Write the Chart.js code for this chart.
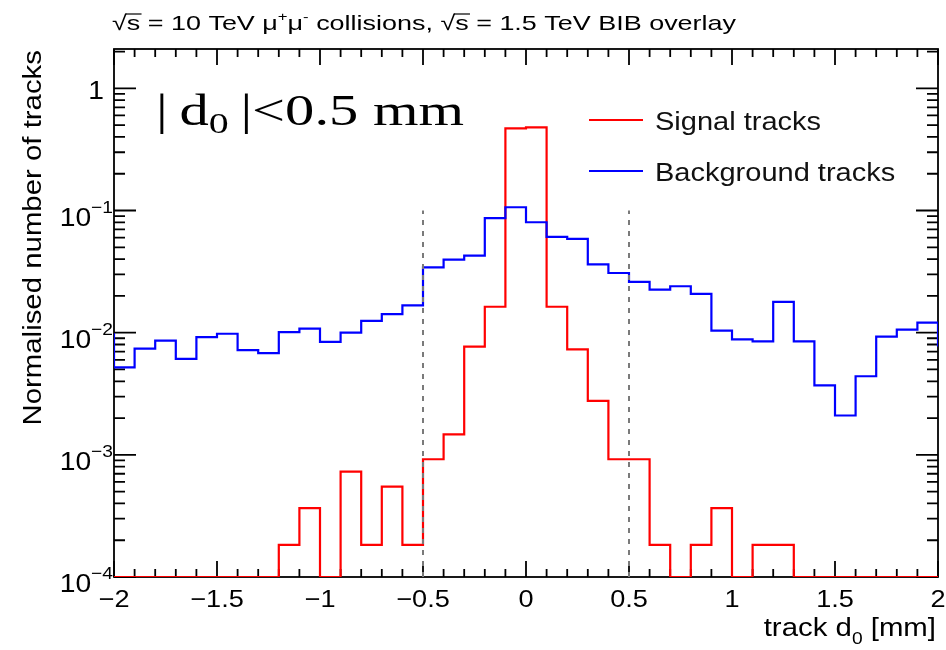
<!DOCTYPE html>
<html lang="en">
<head>
<meta charset="UTF-8">
<title>Track d0 - signal and BIB background</title>
<script src="https://cdn.jsdelivr.net/npm/chart.js"></script>
<style>
    html, body { margin: 0; padding: 0; background: #fff; }
    canvas { display: block; }
</style>
</head>
<body>
<canvas id="d0Chart" width="946" height="650"></canvas>
<script>
    // histogram bin edges, track d0 [mm]
    const binEdges = [
        -2.0, -1.9, -1.8, -1.7, -1.6, -1.5, -1.4, -1.3, -1.2, -1.1,
        -1.0, -0.9, -0.8, -0.7, -0.6, -0.5, -0.4, -0.3, -0.2, -0.1,
         0.0,  0.1,  0.2,  0.3,  0.4,  0.5,  0.6,  0.7,  0.8,  0.9,
         1.0,  1.1,  1.2,  1.3,  1.4,  1.5,  1.6,  1.7,  1.8,  1.9,
         2.0
    ];

    // normalised contents, one per bin
    const signalValues = [
        0, 0, 0, 0, 0, 0, 0, 0, 0.000183, 0.000366,
        0, 0.00073, 0.000183, 0.00055, 0.000183, 0.00092, 0.00147, 0.0077, 0.0163, 0.47,
        0.48, 0.0163, 0.0073, 0.00277, 0.00092, 0.00092, 0.000183, 0, 0.000183, 0.000366,
        0, 0.000183, 0.000183, 0, 0, 0, 0, 0, 0, 0
    ];
    const backgroundValues = [
        0.0052, 0.0074, 0.0086, 0.0061, 0.0092, 0.0098, 0.0072, 0.0068, 0.0101, 0.0108,
        0.0084, 0.0100, 0.0125, 0.0142, 0.0167, 0.0343, 0.0396, 0.0428, 0.0865, 0.1064,
        0.0802, 0.0609, 0.0586, 0.0363, 0.0308, 0.0261, 0.0225, 0.0240, 0.0208, 0.0104,
        0.0088, 0.0085, 0.0179, 0.0085, 0.0037, 0.0021, 0.0044, 0.0093, 0.0106, 0.0121
    ];
    // under/overflow bins, only their edge steps show
    const signalFlow = [0, 0];
    const backgroundFlow = [0.0099, 0.0077];

    const xTickValues = [-2, -1.5, -1, -0.5, 0, 0.5, 1, 1.5, 2];
    const xTickLabels = ['\u22122', '\u22121.5', '\u22121', '\u22120.5', '0', '0.5', '1', '1.5', '2'];
    const yTickValues = [1e-4, 1e-3, 1e-2, 1e-1, 1];
    const yTickBases = ['10', '10', '10', '10', '1'];
    const yTickExponents = ['\u22124', '\u22123', '\u22122', '\u22121', ''];

    const cutValues = [-0.5, 0.5];   // |d0| < 0.5 mm selection
    const cutTop = 0.1;
    const yMin = 1e-4;
    const yMax = 2.1;

    const SANS = '"Liberation Sans", Arial, sans-serif';
    const SERIF = '"Liberation Serif", "Times New Roman", serif';
    const SX = 1.13;   // sans labels are drawn slightly wide

    // step points: one per left edge plus the closing right edge,
    // empty bins sit on the axis floor like in ROOT
    function histPoints(values, flow) {
        const floor = v => Math.max(v, yMin);
        const first = binEdges[0];
        const last = binEdges[binEdges.length - 1];
        const pts = [{ x: first, y: floor(flow[0]) }];
        values.forEach((v, i) => pts.push({ x: binEdges[i], y: floor(v) }));
        pts.push({ x: last, y: floor(values[values.length - 1]) });
        pts.push({ x: last, y: floor(flow[1]) });
        return pts;
    }

    // draw a row of text pieces (sub/superscripts, overlines) stretched by sx
    function drawRuns(ctx, runs, x, y, align, sx, fitWidth) {
        const widths = runs.map(r => { ctx.font = r.font; return ctx.measureText(r.text).width; });
        const raw = widths.reduce((a, b) => a + b, 0);
        if (fitWidth) sx = fitWidth / raw;
        const total = raw * sx;
        const start = align === 'right' ? x - total : align === 'center' ? x - total / 2 : x;
        ctx.save();
        ctx.translate(start, y);
        ctx.scale(sx, 1);
        ctx.textAlign = 'left';
        ctx.textBaseline = 'alphabetic';
        let cx = 0;
        runs.forEach((r, i) => {
            ctx.font = r.font;
            ctx.fillText(r.text, cx, r.dy || 0);
            if (r.bar) {
                ctx.lineWidth = 1.2;
                ctx.beginPath();
                ctx.moveTo(cx - 1, r.bar);
                ctx.lineTo(cx + widths[i] + 1, r.bar);
                ctx.stroke();
            }
            cx += widths[i];
        });
        ctx.restore();
    }

    const frameAndText = {
        id: 'frameAndText',
        beforeDatasetsDraw(chart) {
            const { ctx, chartArea: a, scales: { x, y } } = chart;
            ctx.save();
            ctx.strokeStyle = '#000';
            ctx.lineWidth = 1.8;
            ctx.strokeRect(a.left, a.top, a.right - a.left, a.bottom - a.top);

            ctx.beginPath();
            binEdges.forEach(v => {
                const px = x.getPixelForValue(v);
                const len = xTickValues.includes(v) ? 16 : 8;
                ctx.moveTo(px, a.bottom); ctx.lineTo(px, a.bottom - len);
                ctx.moveTo(px, a.top); ctx.lineTo(px, a.top + len);
            });
            yTickValues.forEach(dec => {
                for (let m = 1; m <= 9; m++) {
                    const v = dec * m;
                    if (v > yMax || (dec === 1 && m > 2)) break;
                    const py = y.getPixelForValue(v);
                    const len = m === 1 ? 22 : 11;
                    ctx.moveTo(a.left, py); ctx.lineTo(a.left + len, py);
                    ctx.moveTo(a.right, py); ctx.lineTo(a.right - len, py);
                }
            });
            ctx.stroke();
            ctx.restore();
        },
        afterDraw(chart) {
            const { ctx, scales: { x, y } } = chart;
            ctx.save();
            ctx.fillStyle = '#000';
            ctx.strokeStyle = '#000';

            // tick labels
            xTickValues.forEach((v, i) => {
                drawRuns(ctx, [{ text: xTickLabels[i], font: '24px ' + SANS }],
                    x.getPixelForValue(v), 607, 'center', SX);
            });
            yTickValues.forEach((v, i) => {
                const py = y.getPixelForValue(v);
                if (yTickExponents[i]) {
                    drawRuns(ctx, [
                        { text: yTickBases[i], font: '25px ' + SANS },
                        { text: yTickExponents[i], font: '17px ' + SANS, dy: -13 }
                    ], 113, py + 15, 'right', SX);
                } else {
                    drawRuns(ctx, [{ text: yTickBases[i], font: '25px ' + SANS }], 104, py + 11, 'right', SX);
                }
            });

            // axis titles
            drawRuns(ctx, [
                { text: 'track d', font: '26px ' + SANS },
                { text: '0', font: '17px ' + SANS, dy: 8 },
                { text: ' [mm]', font: '26px ' + SANS }
            ], 936, 636, 'right', SX);

            ctx.save();
            ctx.translate(41, 50);
            ctx.rotate(-Math.PI / 2);
            drawRuns(ctx, [{ text: 'Normalised number of tracks', font: '26px ' + SANS }], 0, 0, 'right', SX);
            ctx.restore();

            // header line
            const hf = '21px ' + SANS;
            const hs = '13px ' + SANS;
            drawRuns(ctx, [
                { text: '\u221A', font: hf },
                { text: 's', font: hf, bar: -16 },
                { text: ' = 10 TeV \u03BC', font: hf },
                { text: '+', font: hs, dy: -9 },
                { text: '\u03BC', font: hf },
                { text: '-', font: hs, dy: -9 },
                { text: ' collisions, ', font: hf },
                { text: '\u221A', font: hf },
                { text: 's', font: hf, bar: -16 },
                { text: ' = 1.5 TeV BIB overlay', font: hf }
            ], 112, 30, 'left', 1, 624);

            // selection label
            drawRuns(ctx, [
                { text: '|\u2009d', font: '44px ' + SERIF },
                { text: '0', font: '30px ' + SERIF, dy: 8 },
                { text: '\u2009|<0.5 mm', font: '44px ' + SERIF }
            ], 156, 125, 'left', 1, 308);

            // legend
            const legend = [
                { label: 'Signal tracks', color: '#ff0000', y: 120 },
                { label: 'Background tracks', color: '#0000ff', y: 171 }
            ];
            legend.forEach(item => {
                ctx.strokeStyle = item.color;
                ctx.lineWidth = 2;
                ctx.beginPath();
                ctx.moveTo(589, item.y);
                ctx.lineTo(643, item.y);
                ctx.stroke();
                ctx.fillStyle = '#111';
                drawRuns(ctx, [{ text: item.label, font: '25px ' + SANS }], 655, item.y + 10, 'left', 1.16);
            });
            ctx.restore();
        }
    };

    const cutDatasets = cutValues.map(c => ({
        label: 'cut ' + c,
        data: [{ x: c, y: yMin }, { x: c, y: cutTop }],
        borderColor: '#7a7a7a',
        borderWidth: 2,
        borderDash: [5, 6],
        pointRadius: 0,
        fill: false
    }));

    new Chart(document.getElementById('d0Chart'), {
        type: 'line',
        data: {
            datasets: [
                ...cutDatasets,
                {
                    label: 'Background tracks',
                    data: histPoints(backgroundValues, backgroundFlow),
                    borderColor: '#0000ff',
                    borderWidth: 2.2,
                    stepped: true,
                    pointRadius: 0,
                    fill: false
                },
                {
                    label: 'Signal tracks',
                    data: histPoints(signalValues, signalFlow),
                    borderColor: '#ff0000',
                    borderWidth: 2.2,
                    stepped: true,
                    pointRadius: 0,
                    fill: false
                }
            ]
        },
        options: {
            responsive: false,
            animation: false,
            layout: { padding: { left: 0, top: 49, right: 8, bottom: 0 } },
            plugins: {
                legend: { display: false },
                title: { display: false },
                tooltip: { enabled: false }
            },
            scales: {
                x: {
                    type: 'linear',
                    min: -2,
                    max: 2,
                    grid: { display: false },
                    border: { display: false },
                    ticks: { display: false },
                    afterFit: scale => { scale.height = 73; }
                },
                y: {
                    type: 'logarithmic',
                    min: yMin,
                    max: yMax,
                    grid: { display: false },
                    border: { display: false },
                    ticks: { display: false },
                    afterFit: scale => { scale.width = 114; }
                }
            }
        },
        plugins: [frameAndText]
    });
</script>
</body>
</html>
